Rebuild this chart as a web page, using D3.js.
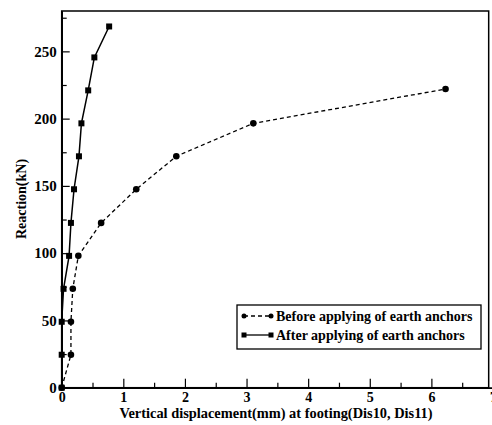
<!DOCTYPE html>
<html>
<head>
<meta charset="utf-8">
<script src="https://cdn.jsdelivr.net/npm/d3@7"></script>
<style>
body { margin: 0; background: #fff; }
text { font-family: "Liberation Serif", "DejaVu Serif", serif; font-weight: bold; fill: #000; }
</style>
</head>
<body>
<script>
// load-displacement curves

var beforeX = [0, 0.15, 0.15, 0.18, 0.27, 0.64, 1.21, 1.86, 3.11, 6.23]
var beforeY = [0, 24.5, 49, 73.5, 98, 122.5, 147.5, 172, 196.5, 222]

var afterX = [0, 0, 0, 0.03, 0.12, 0.15, 0.2, 0.28, 0.32, 0.43, 0.53, 0.77]
var afterY = [0, 24.5, 49, 73.5, 98, 122.5, 147.5, 172, 196.5, 221, 245.5, 268.5]

var xTicks = [0, 1, 2, 3, 4, 5, 6, 7]
var xMinor = [0.5, 1.5, 2.5, 3.5, 4.5, 5.5, 6.5]
var yTicks = [0, 50, 100, 150, 200, 250]
var yMinor = [25, 75, 125, 175, 225, 275]

var legendLabels = ["Before applying of earth anchors", "After applying of earth anchors"]

var screen = {width: 492, height: 425}
var margins = {top: 11, left: 61.7}

var xScale = d3.scaleLinear()
    .domain([0, 7])
    .range([margins.left, 493])

var yScale = d3.scaleLinear()
    .domain([0, 280])
    .range([387.7, margins.top])

var svg = d3.select("body")
    .append("svg")
    .attr("width", screen.width)
    .attr("height", screen.height)

// frame (right edge stops a bit short of 7, as in the scan)
svg.append("rect")
    .attr("x", xScale(0))
    .attr("y", yScale(280))
    .attr("width", xScale(6.93) - xScale(0))
    .attr("height", yScale(0) - yScale(280))
    .attr("fill", "none")
    .attr("stroke", "#000")
    .attr("stroke-width", 1.5)

var xAxis = d3.axisBottom(xScale)
    .tickValues(xTicks)
    .tickFormat(d3.format("d"))
    .tickSizeInner(-9)
    .tickSizeOuter(0)
    .tickPadding(4)

var gx = svg.append("g")
    .attr("transform", "translate(0," + yScale(0) + ")")
    .call(xAxis)

svg.append("g")
    .attr("transform", "translate(0," + yScale(0) + ")")
    .call(d3.axisBottom(xScale).tickValues(xMinor).tickFormat("").tickSizeInner(-5).tickSizeOuter(0))

var yAxis = d3.axisLeft(yScale)
    .tickValues(yTicks)
    .tickSizeInner(-8)
    .tickSizeOuter(0)
    .tickPadding(5)

var gy = svg.append("g")
    .attr("transform", "translate(" + xScale(0) + ",0)")
    .call(yAxis)

svg.append("g")
    .attr("transform", "translate(" + xScale(0) + ",0)")
    .call(d3.axisLeft(yScale).tickValues(yMinor).tickFormat("").tickSizeInner(-5).tickSizeOuter(0))

gx.attr("font-family", "Liberation Serif").attr("font-size", 14)
gy.attr("font-family", "Liberation Serif").attr("font-size", 15)

svg.selectAll(".domain").attr("stroke-width", 1.5)
svg.selectAll(".tick line").attr("stroke-width", 1.2)
svg.selectAll(".tick text")
    .style("font-family", "'Liberation Serif', serif")
    .style("font-weight", "bold")
gx.selectAll(".tick text").style("font-size", "14px")
gy.selectAll(".tick text").style("font-size", "15px")

svg.append("text")
    .attr("x", 276)
    .attr("y", 418)
    .style("text-anchor", "middle")
    .style("font-size", "14.4px")
    .text("Vertical displacement(mm) at footing(Dis10, Dis11)")

svg.append("text")
    .attr("transform", "translate(26,199) rotate(-90)")
    .style("text-anchor", "middle")
    .style("font-size", "14px")
    .text("Reaction(kN)")

var before = beforeX.map(function(d, i) { return {x: d, y: beforeY[i]} })
var after = afterX.map(function(d, i) { return {x: d, y: afterY[i]} })

var line = d3.line()
    .x(function(d) { return xScale(d.x) })
    .y(function(d) { return yScale(d.y) })

svg.append("path")
    .datum(before)
    .attr("d", line)
    .attr("fill", "none")
    .attr("stroke", "#000")
    .attr("stroke-width", 1.3)
    .attr("stroke-dasharray", "4,3")

svg.append("path")
    .datum(after)
    .attr("d", line)
    .attr("fill", "none")
    .attr("stroke", "#000")
    .attr("stroke-width", 1.5)

svg.selectAll("circle.before")
    .data(before)
    .enter()
    .append("circle")
    .attr("class", "before")
    .attr("cx", function(d) { return xScale(d.x) })
    .attr("cy", function(d) { return yScale(d.y) })
    .attr("r", 3.3)
    .attr("fill", "#000")

svg.selectAll("rect.after")
    .data(after)
    .enter()
    .append("rect")
    .attr("class", "after")
    .attr("x", function(d) { return xScale(d.x) - 3 })
    .attr("y", function(d) { return yScale(d.y) - 3 })
    .attr("width", 6)
    .attr("height", 6)
    .attr("fill", "#000")

// legend
var legend = svg.append("g")

legend.append("rect")
    .attr("x", 237)
    .attr("y", 305)
    .attr("width", 244)
    .attr("height", 44)
    .attr("fill", "#fff")
    .attr("stroke", "#000")
    .attr("stroke-width", 1.3)

var rows = legend.selectAll("g.row")
    .data(legendLabels)
    .enter()
    .append("g")
    .attr("class", "row")
    .attr("transform", function(d, i) { return "translate(0," + (316 + i * 19) + ")" })

rows.append("line")
    .attr("x1", 244)
    .attr("x2", 271)
    .attr("stroke", "#000")
    .attr("stroke-width", 1.3)
    .attr("stroke-dasharray", function(d, i) { return i == 0 ? "4,3" : null })

rows.each(function(d, i) {
    var g = d3.select(this)
    if (i == 0) {
        g.selectAll("circle").data([244, 271]).enter().append("circle")
            .attr("cx", function(v) { return v }).attr("r", 2.5).attr("fill", "#000")
    } else {
        g.selectAll("rect").data([244, 271]).enter().append("rect")
            .attr("x", function(v) { return v - 2.5 }).attr("y", -2.5)
            .attr("width", 5).attr("height", 5).attr("fill", "#000")
    }
})

rows.append("text")
    .attr("x", 276)
    .attr("dy", "0.35em")
    .style("font-size", "14px")
    .text(function(d) { return d })
</script>
</body>
</html>
